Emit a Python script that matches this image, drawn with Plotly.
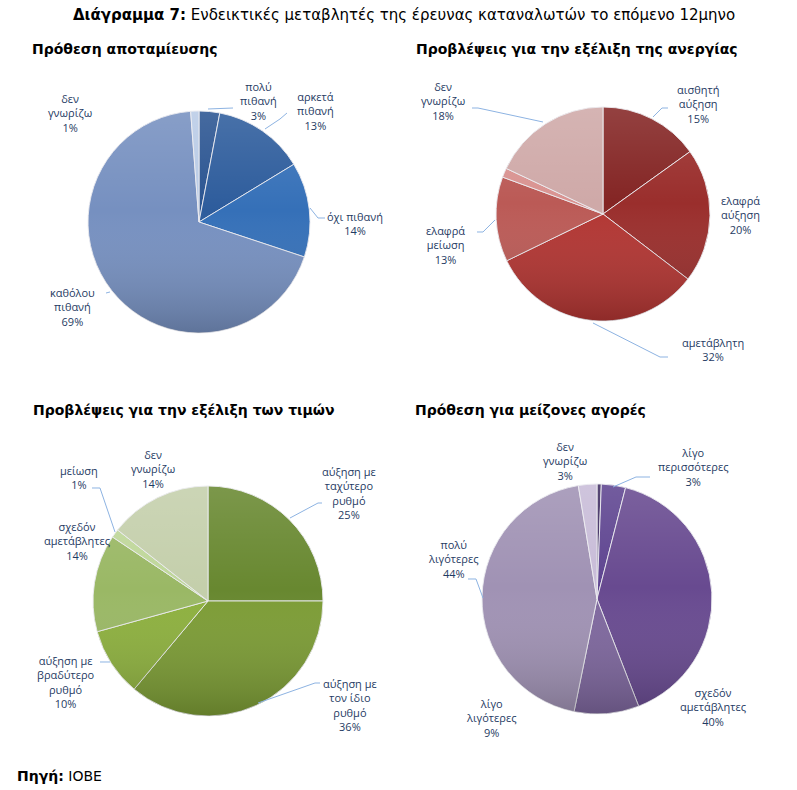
import base64
import plotly.graph_objects as go

W, H = 797, 790

# ---------------- data ----------------
save_labels = ["πολύ πιθανή", "αρκετά πιθανή", "όχι πιθανή", "καθόλου πιθανή", "δεν γνωρίζω"]
save_values = [3.0, 13.3, 13.8, 68.7, 1.2]
save_text = ["3%", "13%", "14%", "69%", "1%"]

unemp_labels = ["αισθητή αύξηση", "ελαφρά αύξηση", "αμετάβλητη", "ελαφρά μείωση", "αισθητή μείωση", "δεν γνωρίζω"]
unemp_values = [15.1, 20.3, 32.4, 12.8, 1.4, 18.0]
unemp_text = ["15%", "20%", "32%", "13%", "", "18%"]

price_labels = ["αύξηση με ταχύτερο ρυθμό", "αύξηση με τον ίδιο ρυθμό", "αύξηση με βραδύτερο ρυθμό",
                "σχεδόν αμετάβλητες", "μείωση", "δεν γνωρίζω"]
price_values = [25.0, 36.1, 9.6, 13.7, 1.2, 14.4]
price_text = ["25%", "36%", "10%", "14%", "1%", "14%"]

buy_labels = ["πολύ περισσότερες", "λίγο περισσότερες", "σχεδόν αμετάβλητες", "λίγο λιγότερες",
              "πολύ λιγότερες", "δεν γνωρίζω"]
buy_values = [0.6, 3.4, 40.1, 9.1, 44.2, 2.6]
buy_text = ["", "3%", "40%", "9%", "44%", "3%"]

# ---------------- styles ----------------
save_colors = ["#2a5491", "#2d5c9c", "#3570b8", "#7690c0", "#b9cbe6"]
unemp_colors = ["#842524", "#9a2e2c", "#b23532", "#bb5a56", "#d99391", "#cfa9a8"]
price_colors = ["#688830", "#7c9c35", "#8db03e", "#9ab865", "#bfd79a", "#c4cfab"]
buy_colors = ["#3f2d62", "#5e4490", "#684a90", "#7e679e", "#a092b4", "#c8bcd8"]

LABEL_FONT = dict(family="Open Sans, DejaVu Sans, sans-serif", size=11, color="#1f3b63")
TITLE_FONT = "DejaVu Sans, sans-serif"
LEADER = "#8db3e2"

# pie geometry (pixel centre, radius)
pies = [
    (save_labels, save_values, save_colors, (199, 222, 111)),
    (unemp_labels, unemp_values, unemp_colors, (603, 214, 107)),
    (price_labels, price_values, price_colors, (208, 601, 115)),
    (buy_labels, buy_values, buy_colors, (597, 599, 115)),
]

# soft vertical shading overlay (light top, darker bottom) like the Excel gradient fill
svg = ('<svg xmlns="http://www.w3.org/2000/svg" width="200" height="200" viewBox="0 0 200 200">'
       '<defs><linearGradient id="g" x1="0" y1="0" x2="0" y2="1">'
       '<stop offset="0" stop-color="#ffffff" stop-opacity="0.13"/>'
       '<stop offset="0.45" stop-color="#ffffff" stop-opacity="0"/>'
       '<stop offset="1" stop-color="#000000" stop-opacity="0.20"/>'
       '</linearGradient></defs><circle cx="100" cy="100" r="100" fill="url(#g)"/></svg>')
svg_uri = "data:image/svg+xml;base64," + base64.b64encode(svg.encode()).decode()

fig = go.Figure()
images = []
for labels, values, colors, (cx, cy, r) in pies:
    fig.add_trace(go.Pie(
        labels=labels, values=values, sort=False, direction="clockwise", rotation=0,
        marker=dict(colors=colors, line=dict(color="rgba(235,235,240,0.9)", width=1)),
        textinfo="none", hoverinfo="label+percent", showlegend=False,
        domain=dict(x=[(cx - r) / W, (cx + r) / W], y=[(H - cy - r) / H, (H - cy + r) / H]),
    ))
    images.append(dict(source=svg_uri, xref="paper", yref="paper",
                       x=(cx - r) / W, y=(H - cy + r) / H, sizex=2 * r / W, sizey=2 * r / H,
                       xanchor="left", yanchor="top", sizing="stretch", layer="above"))

# label placement (pixel centre of text block), one entry per labelled slice
label_pos = [
    # pie 1
    (save_labels[0], save_text[0], 258, 101),
    (save_labels[1], save_text[1], 315, 111),
    (save_labels[2], save_text[2], 355, 224),
    (save_labels[3], save_text[3], 72, 307),
    (save_labels[4], save_text[4], 70, 113),
    # pie 2
    (unemp_labels[0], unemp_text[0], 698, 104),
    (unemp_labels[1], unemp_text[1], 740, 215),
    (unemp_labels[2], unemp_text[2], 713, 350),
    (unemp_labels[3], unemp_text[3], 445, 245),
    (unemp_labels[5], unemp_text[5], 443, 101),
    # pie 3
    (price_labels[0], price_text[0], 349, 493),
    (price_labels[1], price_text[1], 350, 705),
    (price_labels[2], price_text[2], 66, 682),
    (price_labels[3], price_text[3], 77, 541),
    (price_labels[4], price_text[4], 79, 477),
    (price_labels[5], price_text[5], 153, 469),
    # pie 4
    (buy_labels[1], buy_text[1], 693, 467),
    (buy_labels[2], buy_text[2], 713, 707),
    (buy_labels[3], buy_text[3], 491, 718),
    (buy_labels[4], buy_text[4], 453, 559),
    (buy_labels[5], buy_text[5], 565, 461),
]

wrap = {
    "πολύ πιθανή": "πολύ<br>πιθανή",
    "αρκετά πιθανή": "αρκετά<br>πιθανή",
    "όχι πιθανή": "όχι πιθανή",
    "καθόλου πιθανή": "καθόλου<br>πιθανή",
    "δεν γνωρίζω": "δεν<br>γνωρίζω",
    "αισθητή αύξηση": "αισθητή<br>αύξηση",
    "ελαφρά αύξηση": "ελαφρά<br>αύξηση",
    "αμετάβλητη": "αμετάβλητη",
    "ελαφρά μείωση": "ελαφρά<br>μείωση",
    "αύξηση με ταχύτερο ρυθμό": "αύξηση με<br>ταχύτερο<br>ρυθμό",
    "αύξηση με τον ίδιο ρυθμό": "αύξηση με<br>τον ίδιο<br>ρυθμό",
    "αύξηση με βραδύτερο ρυθμό": "αύξηση με<br>βραδύτερο<br>ρυθμό",
    "σχεδόν αμετάβλητες": "σχεδόν<br>αμετάβλητες",
    "μείωση": "μείωση",
    "λίγο περισσότερες": "λίγο<br>περισσότερες",
    "λίγο λιγότερες": "λίγο<br>λιγότερες",
    "πολύ λιγότερες": "πολύ<br>λιγότερες",
}

for lab, pct, x, y in label_pos:
    fig.add_annotation(x=x / W, y=1 - y / H, xref="paper", yref="paper",
                       text=wrap.get(lab, lab) + "<br>" + pct, showarrow=False,
                       align="center", font=LABEL_FONT, xanchor="center", yanchor="middle")

# leader lines (pixel polylines)
leaders = [
    [(208, 109), (233, 108)],
    [(265, 129), (280, 119), (287, 113)],
    [(310, 208), (318, 218), (325, 218)],
    [(106, 293), (110, 292)],
    [(543, 122), (478, 108), (472, 108)],
    [(653, 117), (662, 108), (668, 108)],
    [(593, 323), (660, 357), (668, 357)],
    [(495, 220), (483, 232), (477, 232)],
    [(290, 518), (318, 503), (322, 503)],
    [(258, 703), (315, 683), (320, 683)],
    [(100, 662), (110, 662)],
    [(115, 532), (100, 488), (92, 488)],
    [(613, 487), (636, 477), (650, 477)],
    [(483, 598), (476, 579), (468, 579)],
]
for pts in leaders:
    path = "M " + " L ".join(f"{px / W:.5f},{1 - py / H:.5f}" for px, py in pts)
    fig.add_shape(type="path", path=path, xref="paper", yref="paper",
                  line=dict(color=LEADER, width=1))

# titles
fig.add_annotation(x=404 / W, y=1 - 15 / H, xref="paper", yref="paper", showarrow=False,
                   text="<b>Διάγραμμα 7:</b> Ενδεικτικές μεταβλητές της έρευνας καταναλωτών το επόμενο 12μηνο",
                   font=dict(family=TITLE_FONT, size=15, color="#000000"),
                   xanchor="center", yanchor="middle")
subtitles = [
    ("Πρόθεση αποταμίευσης", 30, 49),
    ("Προβλέψεις για την εξέλιξη της ανεργίας", 414, 49),
    ("Προβλέψεις για την εξέλιξη των τιμών", 31, 410),
    ("Πρόθεση για μείζονες αγορές", 413, 410),
]
for t, x, y in subtitles:
    fig.add_annotation(x=x / W, y=1 - y / H, xref="paper", yref="paper", showarrow=False,
                       text="<b>" + t + "</b>", font=dict(family=TITLE_FONT, size=14, color="#000000"),
                       xanchor="left", yanchor="middle")
fig.add_annotation(x=15 / W, y=1 - 776 / H, xref="paper", yref="paper", showarrow=False,
                   text="<b>Πηγή:</b> IOBE", font=dict(family=TITLE_FONT, size=14, color="#000000"),
                   xanchor="left", yanchor="middle")

fig.update_layout(width=W, height=H, margin=dict(l=0, r=0, t=0, b=0),
                  paper_bgcolor="white", plot_bgcolor="white", images=images)
fig.write_html("out.html")
